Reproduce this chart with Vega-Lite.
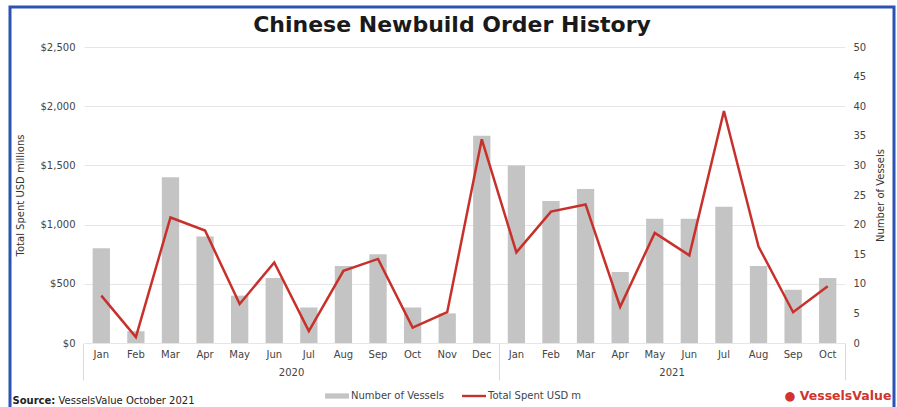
{
  "$schema": "https://vega.github.io/schema/vega-lite/v6.json",
  "width": 884,
  "height": 406,
  "autosize": {"type": "none"},
  "padding": {"left": 10, "top": 7, "right": 3, "bottom": -6},
  "background": "white",
  "title": {
    "text": "Chinese Newbuild Order History",
    "font": "DejaVu Sans",
    "fontSize": 22,
    "fontWeight": "bold",
    "color": "#1a1a1a",
    "anchor": "middle",
    "frame": "group",
    "offset": -33
  },
  "config": {
    "view": {"stroke": "#2c52b3", "strokeWidth": 3},
    "axis": {
      "labelFont": "DejaVu Sans",
      "titleFont": "DejaVu Sans",
      "labelFontSize": 10,
      "titleFontSize": 10,
      "labelColor": "#444444",
      "titleColor": "#333333",
      "titleFontWeight": "normal"
    }
  },
  "data": {
    "values": [
      {"key": "2020-Jan", "vessels": 16, "spent": 400},
      {"key": "2020-Feb", "vessels": 2, "spent": 50},
      {"key": "2020-Mar", "vessels": 28, "spent": 1060},
      {"key": "2020-Apr", "vessels": 18, "spent": 950},
      {"key": "2020-May", "vessels": 8, "spent": 330},
      {"key": "2020-Jun", "vessels": 11, "spent": 680},
      {"key": "2020-Jul", "vessels": 6, "spent": 100},
      {"key": "2020-Aug", "vessels": 13, "spent": 610},
      {"key": "2020-Sep", "vessels": 15, "spent": 710},
      {"key": "2020-Oct", "vessels": 6, "spent": 130},
      {"key": "2020-Nov", "vessels": 5, "spent": 260},
      {"key": "2020-Dec", "vessels": 35, "spent": 1720},
      {"key": "2021-Jan", "vessels": 30, "spent": 765},
      {"key": "2021-Feb", "vessels": 24, "spent": 1110},
      {"key": "2021-Mar", "vessels": 26, "spent": 1170},
      {"key": "2021-Apr", "vessels": 12, "spent": 305},
      {"key": "2021-May", "vessels": 21, "spent": 930},
      {"key": "2021-Jun", "vessels": 21, "spent": 740},
      {"key": "2021-Jul", "vessels": 23, "spent": 1960},
      {"key": "2021-Aug", "vessels": 13, "spent": 815},
      {"key": "2021-Sep", "vessels": 9, "spent": 260},
      {"key": "2021-Oct", "vessels": 11, "spent": 480}
    ]
  },
  "layer": [
    {
      "mark": {"type": "bar"},
      "encoding": {
        "x": {
          "field": "key",
          "type": "nominal",
          "sort": null,
          "scale": {"range": [74, 835], "paddingInner": 0.5, "paddingOuter": 0.25},
          "axis": {
            "orient": "bottom",
            "offset": -70,
            "bandPosition": -0.5,
            "labelExpr": "substring(datum.value, 5)",
            "labelOffset": 0,
            "labelPadding": -31,
            "labelAngle": 0,
            "ticks": true,
            "tickSize": 37,
            "tickColor": {"condition": {"test": "indexof(datum.value, 'Jan') >= 0", "value": "#d9d9d9"}, "value": "transparent"},
            "domain": false,
            "grid": false,
            "title": "Source:",
            "titleFontWeight": "bold",
            "titleColor": "#222222",
            "titleX": 2,
            "titleY": 57,
            "titleAlign": "left",
            "titleBaseline": "middle",
            "titleAnchor": "start"
          }
        },
        "y": {
          "field": "vessels",
          "type": "quantitative",
          "scale": {"domain": [0, 50], "range": [336, 40], "nice": false},
          "axis": {
            "orient": "right",
            "offset": -49,
            "values": [0, 5, 10, 15, 20, 25, 30, 35, 40, 45, 50],
            "grid": false,
            "ticks": false,
            "domain": false,
            "labelPadding": 8,
            "title": "Number of Vessels",
            "titleAngle": 270,
            "titlePadding": 20
          }
        },
        "color": {
          "datum": "Number of Vessels",
          "scale": {"domain": ["Number of Vessels", "Total Spent USD m"], "range": ["#c4c4c4", "#c8312b"]},
          "legend": {
            "orient": "none",
            "legendX": 315,
            "legendY": 377,
            "direction": "horizontal",
            "title": null,
            "symbolType": "M-1,-0.2H1V0.2H-1Z",
            "symbolSize": 576,
            "labelFont": "DejaVu Sans",
            "labelFontSize": 10,
            "labelColor": "#444444",
            "labelOffset": 2,
            "columnPadding": 18,
            "encoding": {
              "symbols": {
                "shape": {"condition": {"test": "datum.value === 'Number of Vessels'", "value": "M-1,-0.22H1V0.22H-1Z"}, "value": "M-1,-0.1H1V0.1H-1Z"},
                "fill": {"condition": {"test": "datum.value === 'Number of Vessels'", "value": "#c4c4c4"}, "value": "#c8312b"},
                "strokeWidth": {"value": 0},
                "opacity": {"value": 1}
              }
            }
          }
        }
      }
    },
    {
      "mark": {"type": "line", "strokeWidth": 2.5},
      "encoding": {
        "x": {
          "field": "key",
          "type": "nominal",
          "sort": null,
          "axis": {
            "orient": "bottom",
            "offset": -70,
            "bandPosition": 1.5,
            "values": ["2020-Jun", "2021-May", "2021-Oct"],
            "labelExpr": "datum.value == '2021-Oct' ? '' : substring(datum.value, 0, 4)",
            "labelOffset": 17.3,
            "labelPadding": -13,
            "labelAngle": 0,
            "ticks": true,
            "tickSize": 37,
            "tickColor": {"condition": {"test": "datum.value == '2021-Oct'", "value": "#d9d9d9"}, "value": "transparent"},
            "domain": false,
            "grid": false,
            "title": "VesselsValue October 2021",
            "titleColor": "#222222",
            "titleX": 48,
            "titleY": 57,
            "titleAlign": "left",
            "titleBaseline": "middle",
            "titleAnchor": "start"
          }
        },
        "y": {
          "field": "spent",
          "type": "quantitative",
          "scale": {"domain": [0, 2500], "range": [336, 40], "nice": false},
          "axis": {
            "orient": "left",
            "offset": -74,
            "values": [0, 500, 1000, 1500, 2000, 2500],
            "format": "$,.0f",
            "grid": true,
            "gridColor": "#e6e6e6",
            "ticks": false,
            "domain": false,
            "labelPadding": 9,
            "title": "Total Spent USD millions",
            "titlePadding": 15
          }
        },
        "color": {"datum": "Total Spent USD m"}
      }
    },
    {
      "mark": {"type": "point", "opacity": 0},
      "encoding": {
        "x": {
          "field": "key",
          "type": "nominal",
          "sort": null,
          "axis": {
            "orient": "bottom",
            "offset": -70,
            "labels": false,
            "ticks": false,
            "domain": false,
            "grid": false,
            "title": "● VesselsValue",
            "titleColor": "#d0342c",
            "titleFontSize": 12.5,
            "titleFontWeight": "bold",
            "titleX": 774,
            "titleY": 52,
            "titleAlign": "left",
            "titleBaseline": "middle",
            "titleAnchor": "start"
          }
        },
        "y": {"field": "vessels", "type": "quantitative", "axis": null}
      }
    }
  ],
  "resolve": {"scale": {"y": "independent"}, "axis": {"x": "independent", "y": "independent"}}
}
